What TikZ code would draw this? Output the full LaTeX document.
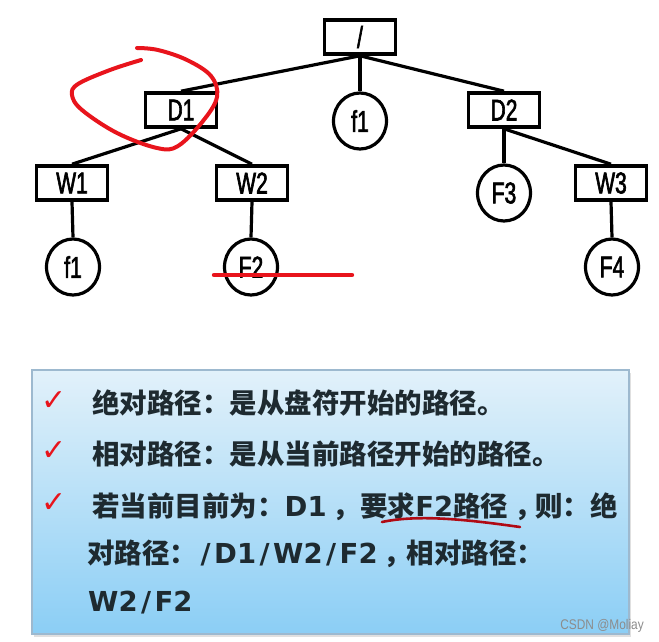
\documentclass[tikz,border=0pt]{standalone}
\usepackage{fontspec}
\usepackage{xcolor}
\usepackage{tikz}
\usetikzlibrary{shapes.geometric,positioning,calc}
\newfontfamily\treefont[FakeStretch=0.7,FakeBold=2]{Liberation Sans}
\newfontfamily\markfont[FakeStretch=0.85]{Liberation Sans}
\newfontfamily\cjk{Noto Sans CJK SC}
\newfontfamily\latfont{DejaVu Sans}
\newfontfamily\tickfont{DejaVu Sans}
\definecolor{boxtop}{HTML}{E2F1FA}
\definecolor{boxbot}{HTML}{8BCEF5}
\definecolor{boxline}{HTML}{9DB9CF}
\definecolor{txtdark}{HTML}{1E2A30}
\definecolor{penred}{HTML}{E8141C}
\definecolor{inkred}{HTML}{B00A14}
\newcommand\lat[1]{{\latfont\bfseries #1}}
\newcommand\psep{\hspace{3.5pt}/\hspace{3.5pt}}
\tikzset{
  dirnode/.style={
    rectangle, draw=black, line width=3.6pt, fill=white,
    minimum width=71pt, minimum height=34pt, inner sep=0pt,
    font=\treefont\fontsize{30}{32}\selectfont
  },
  filenode/.style={
    ellipse, draw=black, line width=3.2pt, fill=white,
    minimum width=53pt, minimum height=56pt, inner sep=0pt,
    font=\treefont\fontsize{30}{32}\selectfont
  },
  treeedge/.style={line width=3.2pt, draw=black},
  tickmark/.style={font=\tickfont\fontsize{30}{32}\selectfont, text=penred, inner sep=0pt},
  noteline/.style={anchor=base west, inner sep=0pt, text=txtdark,
    font=\cjk\bfseries\fontsize{27.5}{30}\selectfont},
  scribble/.style={line width=4pt, draw=penred, line cap=round, line join=round},
}

\begin{document}
\begin{tikzpicture}[x=1pt, y=-1pt]
  \useasboundingbox (0,0) rectangle (659,642);
  \fill[white] (0,0) rectangle (659,642);

  % directory tree
  \node (root) [dirnode] at (360,37) {/};
  \node (d1) [dirnode] at (181,110) {D1};
  \node (f1top) [filenode] at (360,121) {f1};
  \node (d2) [dirnode] at (504,110) {D2};
  \node (w1) [dirnode] at (72,183) {W1};
  \node (w2) [dirnode] at (252,183) {W2};
  \node (f3) [filenode] at (504,193) {F3};
  \node (w3) [dirnode] at (611,183) {W3};
  \node (f1low) [filenode] at (73,267) {f1};
  \node (f2) [filenode] at (251,267) {F2};
  \node (f4) [filenode] at (612,267) {F4};
  \draw[treeedge] (root.south) -- (d1.north);
  \draw[treeedge] (root.south) -- (f1top.north);
  \draw[treeedge] (root.south) -- (d2.north);
  \draw[treeedge] (d1.south) -- (w1.north);
  \draw[treeedge] (d1.south) -- (w2.north);
  \draw[treeedge] (d2.south) -- (f3.north);
  \draw[treeedge] (d2.south) -- (w3.north);
  \draw[treeedge] (w1.south) -- (f1low.north);
  \draw[treeedge] (w2.south) -- (f2.north);
  \draw[treeedge] (w3.south) -- (f4.north);

  % pen marks
  \draw[scribble] plot[smooth, tension=0.6] coordinates {
    (141,60) (110,70) (78,84) (72,95) (82,110) (117,133) (157,148)
    (178,146) (203,121) (217,97) (211,76) (187,60) (158,50) (137,48)};
  \draw[scribble, line width=4.4pt] (214,275) -- (352,275);

  % note box
  \fill[black!12] (34,373) rectangle (631,637);
  \shade[top color=boxtop, bottom color=boxbot] (32,370) rectangle (629,634);
  \draw[boxline, line width=1.4pt] (32,370) rectangle (629,634);

  \node (tk1) [tickmark] at (54,401) {✓};
  \node (tk2) [tickmark] at (54,451) {✓};
  \node (tk3) [tickmark] at (54,503) {✓};
  \node (ln1) [noteline] at (92,413) {绝对路径：是从盘符开始的路径。};
  \node (ln2) [noteline] at (92,464) {相对路径：是从当前路径开始的路径。};
  \node (ln3) [noteline] at (92,516) {若当前目前为：\lat{D1} ，要求\lat{F2}路径 ，\kern-7pt 则：绝};
  \node (ln4) [noteline] at (87,563) {对路径：\lat{\psep D1\psep W2\psep F2} ，\kern-5pt 相对路径：};
  \node (ln5) [noteline] at (88,611) {\lat{W2\psep F2}};
  \draw[inkred, line width=2.6pt, line cap=round]
    (382,522) .. controls (420,514) and (470,520) .. (520,527);

  \node (mark) [anchor=east, text=black!45, inner sep=0pt,
    font=\markfont\fontsize{14}{15}\selectfont] at (644,626) {CSDN @Moliay};
\end{tikzpicture}
\end{document}
